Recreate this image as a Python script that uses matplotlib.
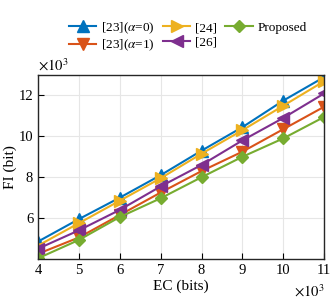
import matplotlib.pyplot as plt
import numpy as np

plt.rcParams['font.family'] = ['Liberation Serif', 'DejaVu Serif']
plt.rcParams['mathtext.fontset'] = 'stix'

ec = [4, 5, 6, 7, 8, 9, 10, 11]
fi_23a0 = [4.85, 5.95, 7.0, 8.1, 9.3, 10.45, 11.75, 12.9]
fi_23a1 = [4.25, 5.05, 6.15, 7.25, 8.3, 9.25, 10.35, 11.45]
fi_24 = [4.65, 5.75, 6.85, 7.95, 9.15, 10.3, 11.5, 12.7]
fi_26 = [4.5, 5.4, 6.4, 7.55, 8.6, 9.8, 10.9, 12.1]
fi_prop = [4.03, 4.93, 6.05, 6.97, 8.0, 9.0, 9.9, 10.95]

fig = plt.figure(figsize=(3.32, 2.99), dpi=100)
ax = fig.add_axes([0.1145, 0.134, 0.862, 0.615])

ax.plot(ec, fi_23a0, color='#0072BD', marker='^', ms=8, lw=1.5, label=r'[23]($\alpha$=0)')
ax.plot(ec, fi_23a1, color='#D95319', marker='v', ms=8, lw=1.5, label=r'[23]($\alpha$=1)')
ax.plot(ec, fi_24, color='#EDB120', marker='>', ms=8, lw=1.5, label='[24]')
ax.plot(ec, fi_26, color='#7E2F8E', marker='<', ms=8, lw=1.5, label='[26]')
ax.plot(ec, fi_prop, color='#77AC30', marker='D', ms=6.5, lw=1.5, label='Proposed')

ax.set_xlim(4, 11)
ax.set_ylim(4, 13)
ax.set_xticks(np.arange(4, 12))
ax.set_yticks([6, 8, 10, 12])
ax.grid(True, color='#e6e6e6', lw=0.8)
ax.set_axisbelow(True)
ax.tick_params(direction='in', labelsize=10.5, length=4, top=False, right=False)
for s in ax.spines.values():
    s.set_linewidth(1.0)
    s.set_color('#262626')

ax.set_xlabel('EC (bits)', fontsize=11, labelpad=2)
ax.set_ylabel('FI (bit)', fontsize=11, labelpad=1)
ax.text(0.0, 1.01, r'$\times10^3$', transform=ax.transAxes, fontsize=10.5, va='bottom', ha='left')
ax.text(1.0, -0.13, r'$\times10^3$', transform=ax.transAxes, fontsize=10.5, va='top', ha='right')

fig.legend(loc='center', bbox_to_anchor=(0.565, 0.877), ncol=3, frameon=False, fontsize=9.5,
           handlelength=2.1, columnspacing=0.6, handletextpad=0.35, labelspacing=0.15)

fig.savefig('out.png', dpi=100)
